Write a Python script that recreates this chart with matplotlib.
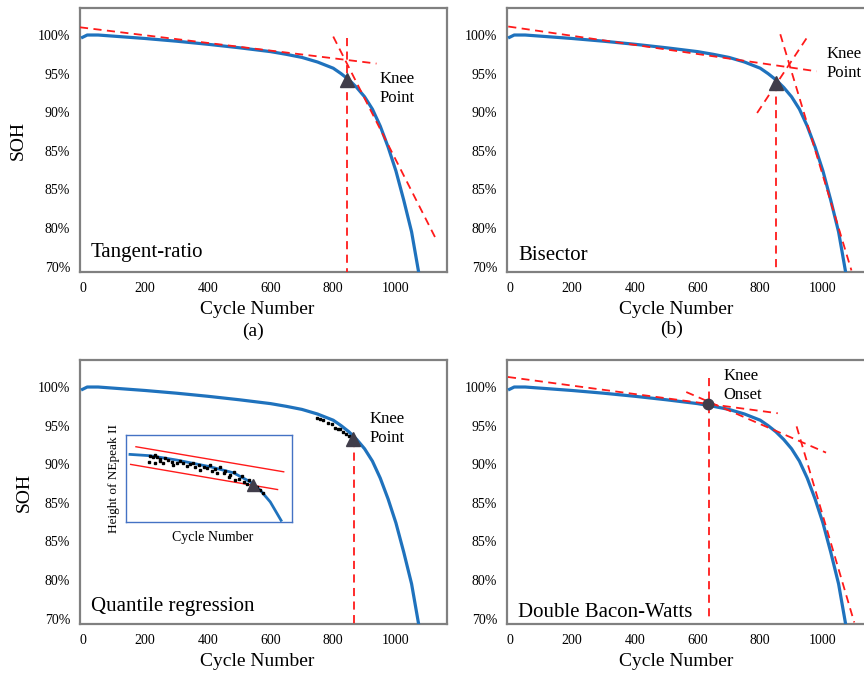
import matplotlib
matplotlib.use('Agg')
import matplotlib.pyplot as plt

plt.rcParams['font.family'] = ['Liberation Serif', 'DejaVu Serif']

# ==============================================================================
# DATA
# ==============================================================================
cycles = [0, 15, 50, 100, 200, 300, 400, 500, 600, 650, 700, 750, 800, 825,
          850, 875, 900, 925, 950, 975, 1000, 1025, 1050, 1072]
soh = [99.7, 100.0, 100.0, 99.85, 99.55, 99.2, 98.8, 98.35, 97.85, 97.5, 97.1,
       96.5, 95.7, 95.0, 94.2, 93.2, 92.0, 90.4, 88.2, 85.5, 82.4, 78.6, 74.5, 69.4]

ytick_vals = [100, 95, 90, 85, 80, 75, 70]
ytick_labels = ['100%', '95%', '90%', '85%', '85%', '80%', '70%']
xtick_vals = [0, 200, 400, 600, 800, 1000]

# (a) tangent-ratio
a_tan1_x, a_tan1_y = [-8, 938], [101.0, 96.3]
a_tan2_x, a_tan2_y = [800, 1130], [99.8, 73.4]
a_vert_x, a_vert_y = [843, 843], [99.6, 69.3]
a_knee = (843, 94.2)

# (b) bisector
b_tan1_x, b_tan1_y = [-4, 980], [101.1, 95.3]
b_tan2_x, b_tan2_y = [864, 1091], [100.1, 69.5]
b_bis_x, b_bis_y = [790, 953], [89.9, 99.9]
b_vert_x, b_vert_y = [849, 849], [93.8, 69.3]
b_knee = (849, 93.8)

# (c) quantile regression
c_dots_x = [747, 757, 768, 784, 795, 805, 816, 823, 832, 842, 851]
c_dots_y = [96.0, 95.8, 95.7, 95.4, 95.2, 94.7, 94.5, 94.6, 94.2, 93.9, 93.6]
c_vert_x, c_vert_y = [866, 866], [93.3, 69.2]
c_knee = (862, 93.3)

# inset (arbitrary units)
ins_curve_x = [0.024, 0.145, 0.306, 0.507, 0.648, 0.748, 0.809, 0.869, 0.934]
ins_curve_y = [0.777, 0.762, 0.712, 0.635, 0.565, 0.462, 0.365, 0.231, 0.019]
ins_up_x, ins_up_y = [0.060, 0.950], [0.865, 0.577]
ins_lo_x, ins_lo_y = [0.028, 0.913], [0.662, 0.373]
ins_dots_x = [0.145, 0.161, 0.175, 0.189, 0.205, 0.141, 0.175, 0.205, 0.225,
              0.235, 0.256, 0.276, 0.286, 0.306, 0.326, 0.346, 0.366, 0.386,
              0.406, 0.416, 0.437, 0.447, 0.467, 0.487, 0.507, 0.517, 0.537,
              0.547, 0.567, 0.588, 0.598, 0.618, 0.628, 0.648, 0.658, 0.678,
              0.698, 0.708, 0.728, 0.738, 0.759, 0.789, 0.809, 0.825]
ins_dots_y = [0.758, 0.742, 0.769, 0.750, 0.719, 0.692, 0.681, 0.704, 0.673,
              0.731, 0.712, 0.692, 0.654, 0.681, 0.704, 0.673, 0.642, 0.665,
              0.681, 0.635, 0.654, 0.596, 0.635, 0.615, 0.654, 0.588, 0.604,
              0.565, 0.627, 0.558, 0.588, 0.519, 0.538, 0.577, 0.481, 0.500,
              0.527, 0.462, 0.442, 0.488, 0.435, 0.404, 0.365, 0.335]
ins_knee = (0.765, 0.423)

# (d) double Bacon-Watts
d_tan1_x, d_tan1_y = [-5, 856], [101.3, 96.6]
d_tan2_x, d_tan2_y = [564, 1010], [99.35, 91.5]
d_tan3_x, d_tan3_y = [916, 1100], [94.9, 69.5]
d_vert_x, d_vert_y = [638, 638], [101.2, 70.0]
d_onset = (633, 97.8)

# ==============================================================================
# STYLE
# ==============================================================================
BLUE = '#1f72bd'
RED = '#ff1a1a'
MARK = '#403d4a'
FRAME = '#808080'
DASH = (0, (4.5, 3))

W, H = 864, 679


def px_axes(fig, left, top, right, bottom):
    return fig.add_axes([left / W, 1 - bottom / H, (right - left) / W, (bottom - top) / H])


def setup(ax, name, label_x, name_y, ylabel_x=None):
    ax.set_xlim(-8, 1163)
    ax.set_ylim(69.3, 103.5)
    ax.set_xticks(xtick_vals)
    ax.set_yticks(ytick_vals)
    ax.set_yticklabels(ytick_labels)
    ax.tick_params(length=0, labelsize=10, pad=7)
    for s in ax.spines.values():
        s.set_color(FRAME)
        s.set_linewidth(1.6)
    ax.plot(cycles, soh, color=BLUE, lw=2.3, zorder=3)
    ax.set_xlabel('Cycle Number', fontsize=14)
    ax.xaxis.set_label_coords(label_x, -0.11)
    if ylabel_x is not None:
        ax.set_ylabel('SOH', fontsize=14)
        ax.yaxis.set_label_coords(ylabel_x, 0.5)
    ax.text(0.03, name_y, name, transform=ax.transAxes, fontsize=15,
            ha='left', va='baseline')


def red(ax, x, y):
    ax.plot(x, y, color=RED, lw=1.3, linestyle=DASH, zorder=4)


fig = plt.figure(figsize=(8.64, 6.79), dpi=100)

# ── (a) ─────────────────────────────────────────────────────────────────────
ax = px_axes(fig, 80, 8, 447, 272)
setup(ax, 'Tangent-ratio', 0.484, 0.058, ylabel_x=-0.145)
red(ax, a_tan1_x, a_tan1_y)
red(ax, a_tan2_x, a_tan2_y)
red(ax, a_vert_x, a_vert_y)
ax.plot(*a_knee, marker='^', ms=10, color=MARK, zorder=5)
ax.text(949, 93.1, 'Knee\nPoint', fontsize=12, ha='left', va='center', linespacing=1.25)
fig.text(253 / W, 1 - 331 / H, '(a)', fontsize=14, ha='center', va='center')

# ── (b) ─────────────────────────────────────────────────────────────────────
ax = px_axes(fig, 507, 8, 874, 272)
setup(ax, 'Bisector', 0.462, 0.045)
red(ax, b_tan1_x, b_tan1_y)
red(ax, b_tan2_x, b_tan2_y)
red(ax, b_bis_x, b_bis_y)
red(ax, b_vert_x, b_vert_y)
ax.plot(*b_knee, marker='^', ms=10, color=MARK, zorder=5)
ax.text(1010, 96.25, 'Knee\nPoint', fontsize=12, ha='left', va='center', linespacing=1.25)
fig.text(672 / W, 1 - 329 / H, '(b)', fontsize=14, ha='center', va='center')

# ── (c) ─────────────────────────────────────────────────────────────────────
ax = px_axes(fig, 80, 360, 447, 624)
setup(ax, 'Quantile regression', 0.484, 0.05, ylabel_x=-0.128)
ax.plot(c_dots_x, c_dots_y, 's', ms=1.7, color='black', zorder=4)
red(ax, c_vert_x, c_vert_y)
ax.plot(*c_knee, marker='^', ms=10, color=MARK, zorder=5)
ax.text(915, 94.6, 'Knee\nPoint', fontsize=12, ha='left', va='center', linespacing=1.25)

ins = px_axes(fig, 126, 435, 292, 522)
ins.set_xlim(0, 1)
ins.set_ylim(0, 1)
ins.set_xticks([])
ins.set_yticks([])
for s in ins.spines.values():
    s.set_color('#4472c4')
    s.set_linewidth(1.0)
ins.plot(ins_curve_x, ins_curve_y, color=BLUE, lw=2.0, zorder=3)
ins.plot(ins_up_x, ins_up_y, color=RED, lw=1.0, zorder=2)
ins.plot(ins_lo_x, ins_lo_y, color=RED, lw=1.0, zorder=2)
ins.plot(ins_dots_x, ins_dots_y, 's', ms=1.8, color='black', zorder=4)
ins.plot(*ins_knee, marker='^', ms=9, color=MARK, zorder=5)
ins.set_xlabel('Cycle Number', fontsize=10, labelpad=6)
ins.xaxis.set_label_coords(0.52, -0.1)
ins.set_ylabel('Height of NEpeak II', fontsize=9.5, labelpad=4)

# ── (d) ─────────────────────────────────────────────────────────────────────
ax = px_axes(fig, 507, 360, 874, 624)
setup(ax, 'Double Bacon-Watts', 0.462, 0.028)
red(ax, d_tan1_x, d_tan1_y)
red(ax, d_tan2_x, d_tan2_y)
red(ax, d_tan3_x, d_tan3_y)
red(ax, d_vert_x, d_vert_y)
ax.plot(*d_onset, marker='o', ms=7.5, color=MARK, zorder=5)
ax.text(683, 100.2, 'Knee\nOnset', fontsize=12, ha='left', va='center', linespacing=1.25)

fig.savefig('out.png', dpi=100)
